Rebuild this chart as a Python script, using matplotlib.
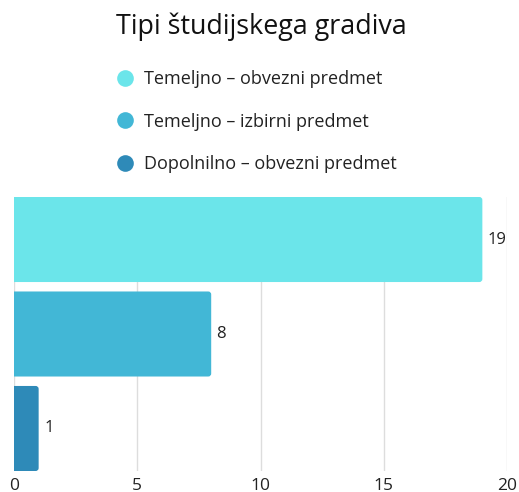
import matplotlib.pyplot as plt
from matplotlib.lines import Line2D
from matplotlib.patches import FancyBboxPatch

plt.rcParams['font.family'] = ['Open Sans', 'DejaVu Sans']

categories = ["Temeljno – obvezni predmet", "Temeljno – izbirni predmet", "Dopolnilno – obvezni predmet"]
values = [19, 8, 1]
colors = ["#6be5ea", "#42b7d6", "#2e8ab8"]
ticks = [0, 5, 10, 15, 20]

fig = plt.figure(figsize=(5.19, 4.92), dpi=100)
ax = fig.add_axes([14 / 519, 1 - 471 / 492, 493 / 519, 274 / 492])

ypos = list(range(len(values)))
bars = ax.barh(ypos, values, height=0.9, color=colors, zorder=2)
# swap plain bars for ones with slightly rounded corners
px_x = 493 / 20   # pixels per x unit
px_y = 274 / 2.9  # pixels per y unit
r = 3 / px_x
for b in bars:
    b.set_visible(False)
    x, y = b.get_x(), b.get_y()
    w, h = b.get_width(), b.get_height()
    p = FancyBboxPatch((x - r, y), w + r, h, boxstyle="round,pad=0,rounding_size=%f" % r,
                       mutation_aspect=px_x / px_y, facecolor=b.get_facecolor(),
                       edgecolor="none", zorder=2)
    ax.add_patch(p)
    ax.text(x + w + 0.22, y + h / 2, str(int(w)), va="center", ha="left", fontsize=12, color="#222222")

ax.set_xlim(0, 20)
ax.set_ylim(2.45, -0.45)
ax.set_xticks(ticks)
ax.set_yticks([])
ax.tick_params(axis="x", length=0, pad=5, labelsize=12.5, labelcolor="#222222")
ax.grid(axis="x", color="#dddddd", linewidth=1, zorder=0)
for s in ax.spines.values():
    s.set_visible(False)

fig.text(0.503, 1 - 27 / 492, "Tipi študijskega gradiva", ha="center", va="center", fontsize=19.4, color="#111111")

handles = [Line2D([], [], marker="o", linestyle="none", markersize=12, markerfacecolor=c, markeredgecolor="none")
           for c in colors]
fig.legend(handles, categories, loc="upper left", bbox_to_anchor=(98 / 519, 1 - 54 / 492),
           frameon=False, fontsize=13, labelspacing=1.36, handletextpad=0.45, handlelength=1.2,
           labelcolor="#222222")

fig.savefig("out.png", dpi=100)
